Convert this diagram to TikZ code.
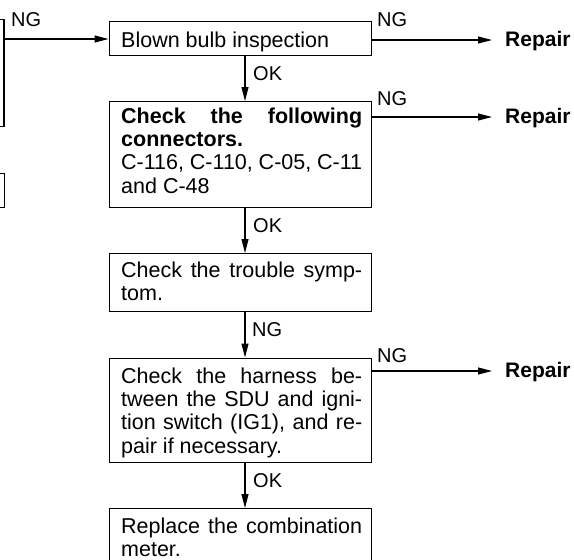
\documentclass[tikz,border=0pt]{standalone}
\usepackage{fontspec}
\setmainfont{Liberation Sans}
\usetikzlibrary{arrows.meta}
\begin{document}
\begin{tikzpicture}[x=1pt,y=-1pt,
  boxline/.style={draw=black, line width=1.1pt},
  flowbox/.style={boxline, minimum width=262pt, inner sep=0pt, anchor=north west},
  boxtext/.style={inner sep=0pt, anchor=north west, text width=241pt, align=justify,
    font=\fontsize{21.5}{23.3}\selectfont,
    execute at begin node={\tolerance=10000\relax\hyphenpenalty=10000\relax\exhyphenpenalty=10000\relax}},
  lbl/.style={inner sep=0pt, anchor=base west, font=\fontsize{20}{22}\selectfont},
  rep/.style={inner xsep=13pt, inner ysep=0pt, anchor=base west, font=\fontsize{21}{24}\selectfont\bfseries},
  arr/.style={line width=1.1pt, -{Triangle[length=14pt,width=7pt]}}]
\useasboundingbox (0,0) rectangle (574,560);
\clip (0,0) rectangle (574,560);

% partial boxes at the left edge
\node[boxline, minimum width=40pt, minimum height=107pt, inner sep=0pt, anchor=north east] (l1) at (4.5,19) {};
\node[boxline, minimum width=40pt, minimum height=34pt, inner sep=0pt, anchor=north east] (l2) at (4.7,173) {};

% main boxes
\node[flowbox, minimum height=33.5pt] (b1) at (108.5,21) {};
\node[flowbox, minimum height=106pt] (b2) at (108.5,101) {};
\node[flowbox, minimum height=58pt] (b3) at (108.5,253) {};
\node[flowbox, minimum height=104.5pt] (b4) at (108.5,357.5) {};
\node[flowbox, minimum height=90pt] (b5) at (108.5,508) {};

% box texts (first line carries a strut of height 16.31pt)
\node[boxtext] (t1) at (121,30.7) {\strut Blown bulb inspection};
\node[boxtext] (t2) at (121,106.7) {\strut{\bfseries Check the following\linebreak connectors.}\newline C-116, C-110, C-05, C-11\newline and C-48};
\node[boxtext] (t3) at (121,260.7) {\strut Check the trouble symp-\linebreak tom.};
\node[boxtext] (t4) at (121,366.7) {\strut Check the harness be-\linebreak tween the SDU and igni-\linebreak tion switch (IG1), and re-\linebreak pair if necessary.};
\node[boxtext] (t5) at (121,516.7) {\strut Replace the combination\linebreak meter.};

% repair targets
\node[rep] (r1) at (492,46.5) {Repair};
\node[rep] (r2) at (492,123.5) {Repair};
\node[rep] (r3) at (492,377.5) {Repair};

% helper coordinates
\coordinate (vx) at (245,0);
\coordinate (y0) at (0,39);
\coordinate (ya) at (0,40);
\coordinate (yb) at (0,117);
\coordinate (yc) at (0,371);

% connectors
\draw[arr] (l1.east |- y0) -- (b1.west |- y0);
\draw[arr] (b1.east |- ya) -- (r1.west |- ya);
\draw[arr] (b2.east |- yb) -- (r2.west |- yb);
\draw[arr] (b4.east |- yc) -- (r3.west |- yc);
\draw[arr] (b1.south -| vx) -- (b2.north -| vx);
\draw[arr] (b2.south -| vx) -- (b3.north -| vx);
\draw[arr] (b3.south -| vx) -- (b4.north -| vx);
\draw[arr] (b4.south -| vx) -- (b5.north -| vx);

% labels
\node[lbl] (n0) at (11,26) {NG};
\node[lbl] (n1) at (377,26) {NG};
\node[lbl] (n2) at (377,105) {NG};
\node[lbl] (n3) at (377,362) {NG};
\node[lbl] (o1) at (253,80) {OK};
\node[lbl] (o2) at (253,232) {OK};
\node[lbl] (n4) at (252,336) {NG};
\node[lbl] (o3) at (253,487) {OK};
\end{tikzpicture}
\end{document}
